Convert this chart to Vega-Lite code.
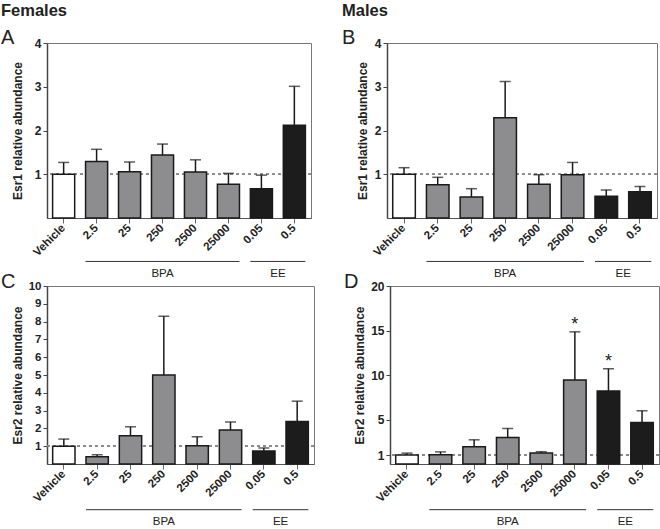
{
  "$schema": "https://vega.github.io/schema/vega-lite/v6.json",
  "background": "white",
  "padding": {"left": 0, "top": 2, "right": 0, "bottom": 0},
  "spacing": -9,
  "datasets": {
    "bars": [
      {"panel": "A", "dose": "Vehicle", "group": "Vehicle", "mean": 1.0, "upper": 1.27, "sig": ""},
      {"panel": "A", "dose": "2.5", "group": "BPA", "mean": 1.29, "upper": 1.57, "sig": ""},
      {"panel": "A", "dose": "25", "group": "BPA", "mean": 1.06, "upper": 1.28, "sig": ""},
      {"panel": "A", "dose": "250", "group": "BPA", "mean": 1.44, "upper": 1.69, "sig": ""},
      {"panel": "A", "dose": "2500", "group": "BPA", "mean": 1.05, "upper": 1.33, "sig": ""},
      {"panel": "A", "dose": "25000", "group": "BPA", "mean": 0.77, "upper": 1.02, "sig": ""},
      {"panel": "A", "dose": "0.05", "group": "EE", "mean": 0.67, "upper": 0.98, "sig": ""},
      {"panel": "A", "dose": "0.5", "group": "EE", "mean": 2.12, "upper": 3.01, "sig": ""},
      {"panel": "B", "dose": "Vehicle", "group": "Vehicle", "mean": 1.0, "upper": 1.15, "sig": ""},
      {"panel": "B", "dose": "2.5", "group": "BPA", "mean": 0.76, "upper": 0.93, "sig": ""},
      {"panel": "B", "dose": "25", "group": "BPA", "mean": 0.48, "upper": 0.67, "sig": ""},
      {"panel": "B", "dose": "250", "group": "BPA", "mean": 2.29, "upper": 3.12, "sig": ""},
      {"panel": "B", "dose": "2500", "group": "BPA", "mean": 0.77, "upper": 0.99, "sig": ""},
      {"panel": "B", "dose": "25000", "group": "BPA", "mean": 0.99, "upper": 1.27, "sig": ""},
      {"panel": "B", "dose": "0.05", "group": "EE", "mean": 0.5, "upper": 0.64, "sig": ""},
      {"panel": "B", "dose": "0.5", "group": "EE", "mean": 0.6, "upper": 0.72, "sig": ""},
      {"panel": "C", "dose": "Vehicle", "group": "Vehicle", "mean": 1.0, "upper": 1.4, "sig": ""},
      {"panel": "C", "dose": "2.5", "group": "BPA", "mean": 0.41, "upper": 0.52, "sig": ""},
      {"panel": "C", "dose": "25", "group": "BPA", "mean": 1.59, "upper": 2.09, "sig": ""},
      {"panel": "C", "dose": "250", "group": "BPA", "mean": 5.0, "upper": 8.3, "sig": ""},
      {"panel": "C", "dose": "2500", "group": "BPA", "mean": 1.03, "upper": 1.53, "sig": ""},
      {"panel": "C", "dose": "25000", "group": "BPA", "mean": 1.91, "upper": 2.36, "sig": ""},
      {"panel": "C", "dose": "0.05", "group": "EE", "mean": 0.73, "upper": 0.9, "sig": ""},
      {"panel": "C", "dose": "0.5", "group": "EE", "mean": 2.39, "upper": 3.53, "sig": ""},
      {"panel": "D", "dose": "Vehicle", "group": "Vehicle", "mean": 1.0, "upper": 1.22, "sig": ""},
      {"panel": "D", "dose": "2.5", "group": "BPA", "mean": 1.03, "upper": 1.36, "sig": ""},
      {"panel": "D", "dose": "25", "group": "BPA", "mean": 1.94, "upper": 2.72, "sig": ""},
      {"panel": "D", "dose": "250", "group": "BPA", "mean": 2.99, "upper": 3.99, "sig": ""},
      {"panel": "D", "dose": "2500", "group": "BPA", "mean": 1.23, "upper": 1.38, "sig": ""},
      {"panel": "D", "dose": "25000", "group": "BPA", "mean": 9.44, "upper": 14.85, "sig": "*"},
      {"panel": "D", "dose": "0.05", "group": "EE", "mean": 8.2, "upper": 10.7, "sig": "*"},
      {"panel": "D", "dose": "0.5", "group": "EE", "mean": 4.66, "upper": 5.97, "sig": ""}
    ],
    "groups": [
      {"group": "BPA", "start": "2.5", "end": "25000", "mid": "250"},
      {"group": "EE", "start": "0.05", "end": "0.5", "mid": "0.05"}
    ]
  },
  "vconcat": [
    {
      "spacing": 29,
      "hconcat": [
        {
          "width": 264, "height": 175,
          "title": {"text": "Females", "subtitle": "A", "anchor": "start", "frame": "group", "dx": -46, "offset": -11, "fontSize": 16.5, "fontWeight": "bold", "color": "#222", "subtitleFontSize": 20, "subtitleFontWeight": "normal", "subtitleColor": "#222", "subtitlePadding": 9},
          "layer": [
            {"data": {"name": "bars"}, "transform": [{"filter": "datum.panel == 'A'"}], "mark": {"type": "rule", "color": "#888", "strokeDash": [3, 3], "strokeWidth": 1}, "encoding": {"y": {"datum": 1, "type": "quantitative", "scale": {"domain": [0, 4], "nice": false}, "axis": {"values": [1, 2, 3, 4], "tickCount": 10, "format": "d", "titlePadding": 10, "labelOverlap": false}, "title": "Esr1 relative abundance"}}},
            {"data": {"name": "bars"}, "transform": [{"filter": "datum.panel == 'A'"}], "mark": {"type": "rule", "color": "#1a1a1a", "strokeWidth": 1.5}, "encoding": {"x": {"field": "dose", "type": "nominal", "sort": null, "scale": {"domain": ["Vehicle", "2.5", "25", "250", "2500", "25000", "0.05", "0.5"], "paddingInner": 0.33, "paddingOuter": 0.17}, "title": null}, "y": {"field": "mean", "type": "quantitative", "title": "Esr1 relative abundance", "axis": {"values": [1, 2, 3, 4], "tickCount": 10, "format": "d", "titlePadding": 10, "labelOverlap": false}}, "y2": {"field": "upper"}}},
            {"data": {"name": "bars"}, "transform": [{"filter": "datum.panel == 'A'"}], "mark": {"type": "tick", "color": "#1a1a1a", "thickness": 1.5, "size": 11}, "encoding": {"x": {"field": "dose", "type": "nominal", "sort": null, "title": null}, "y": {"field": "upper", "type": "quantitative", "title": "Esr1 relative abundance", "axis": {"values": [1, 2, 3, 4], "tickCount": 10, "format": "d", "titlePadding": 10, "labelOverlap": false}}}},
            {"data": {"name": "bars"}, "transform": [{"filter": "datum.panel == 'A'"}], "mark": {"type": "bar", "stroke": "#1a1a1a", "strokeWidth": 1.5}, "encoding": {"x": {"field": "dose", "type": "nominal", "sort": null, "title": null}, "y": {"field": "mean", "type": "quantitative", "title": "Esr1 relative abundance", "axis": {"values": [1, 2, 3, 4], "tickCount": 10, "format": "d", "titlePadding": 10, "labelOverlap": false}}, "color": {"field": "group", "type": "nominal", "scale": {"domain": ["Vehicle", "BPA", "EE"], "range": ["#ffffff", "#8d8d8f", "#1c1c1c"]}, "legend": null}}},
            {"data": {"name": "groups"}, "mark": {"type": "rule", "color": "#333", "strokeWidth": 1}, "encoding": {"x": {"field": "start", "type": "nominal", "bandPosition": 0, "title": null}, "x2": {"field": "end", "bandPosition": 1}, "y": {"datum": -0.993, "type": "quantitative"}}},
            {"data": {"name": "groups"}, "transform": [{"filter": "datum.group == 'BPA'"}], "mark": {"type": "text", "fontSize": 11.5, "color": "#222", "baseline": "middle"}, "encoding": {"x": {"field": "mid", "type": "nominal", "bandPosition": 0.5, "title": null}, "y": {"datum": -1.27, "type": "quantitative"}, "text": {"field": "group"}}},
            {"data": {"name": "groups"}, "transform": [{"filter": "datum.group == 'EE'"}], "mark": {"type": "text", "fontSize": 11.5, "color": "#222", "baseline": "middle"}, "encoding": {"x": {"field": "mid", "type": "nominal", "bandPosition": 1.25, "title": null}, "y": {"datum": -1.27, "type": "quantitative"}, "text": {"field": "group"}}}
          ]
        },
        {
          "width": 270, "height": 175,
          "title": {"text": "Males", "subtitle": "B", "anchor": "start", "frame": "group", "dx": -45, "offset": -11, "fontSize": 16.5, "fontWeight": "bold", "color": "#222", "subtitleFontSize": 20, "subtitleFontWeight": "normal", "subtitleColor": "#222", "subtitlePadding": 9},
          "layer": [
            {"data": {"name": "bars"}, "transform": [{"filter": "datum.panel == 'B'"}], "mark": {"type": "rule", "color": "#888", "strokeDash": [3, 3], "strokeWidth": 1}, "encoding": {"y": {"datum": 1, "type": "quantitative", "scale": {"domain": [0, 4], "nice": false}, "axis": {"values": [1, 2, 3, 4], "tickCount": 10, "format": "d", "titlePadding": 5, "labelOverlap": false}, "title": "Esr1 relative abundance"}}},
            {"data": {"name": "bars"}, "transform": [{"filter": "datum.panel == 'B'"}], "mark": {"type": "rule", "color": "#1a1a1a", "strokeWidth": 1.5}, "encoding": {"x": {"field": "dose", "type": "nominal", "sort": null, "scale": {"domain": ["Vehicle", "2.5", "25", "250", "2500", "25000", "0.05", "0.5"], "paddingInner": 0.33, "paddingOuter": 0.17}, "title": null}, "y": {"field": "mean", "type": "quantitative", "title": "Esr1 relative abundance", "axis": {"values": [1, 2, 3, 4], "tickCount": 10, "format": "d", "titlePadding": 5, "labelOverlap": false}}, "y2": {"field": "upper"}}},
            {"data": {"name": "bars"}, "transform": [{"filter": "datum.panel == 'B'"}], "mark": {"type": "tick", "color": "#1a1a1a", "thickness": 1.5, "size": 11}, "encoding": {"x": {"field": "dose", "type": "nominal", "sort": null, "title": null}, "y": {"field": "upper", "type": "quantitative", "title": "Esr1 relative abundance", "axis": {"values": [1, 2, 3, 4], "tickCount": 10, "format": "d", "titlePadding": 5, "labelOverlap": false}}}},
            {"data": {"name": "bars"}, "transform": [{"filter": "datum.panel == 'B'"}], "mark": {"type": "bar", "stroke": "#1a1a1a", "strokeWidth": 1.5}, "encoding": {"x": {"field": "dose", "type": "nominal", "sort": null, "title": null}, "y": {"field": "mean", "type": "quantitative", "title": "Esr1 relative abundance", "axis": {"values": [1, 2, 3, 4], "tickCount": 10, "format": "d", "titlePadding": 5, "labelOverlap": false}}, "color": {"field": "group", "type": "nominal", "scale": {"domain": ["Vehicle", "BPA", "EE"], "range": ["#ffffff", "#8d8d8f", "#1c1c1c"]}, "legend": null}}},
            {"data": {"name": "groups"}, "mark": {"type": "rule", "color": "#333", "strokeWidth": 1}, "encoding": {"x": {"field": "start", "type": "nominal", "bandPosition": 0, "title": null}, "x2": {"field": "end", "bandPosition": 1}, "y": {"datum": -0.993, "type": "quantitative"}}},
            {"data": {"name": "groups"}, "transform": [{"filter": "datum.group == 'BPA'"}], "mark": {"type": "text", "fontSize": 11.5, "color": "#222", "baseline": "middle"}, "encoding": {"x": {"field": "mid", "type": "nominal", "bandPosition": 0.5, "title": null}, "y": {"datum": -1.27, "type": "quantitative"}, "text": {"field": "group"}}},
            {"data": {"name": "groups"}, "transform": [{"filter": "datum.group == 'EE'"}], "mark": {"type": "text", "fontSize": 11.5, "color": "#222", "baseline": "middle"}, "encoding": {"x": {"field": "mid", "type": "nominal", "bandPosition": 1.25, "title": null}, "y": {"datum": -1.27, "type": "quantitative"}, "text": {"field": "group"}}}
          ]
        }
      ]
    },
    {
      "spacing": 28,
      "hconcat": [
        {
          "width": 267, "height": 178,
          "title": {"text": "C", "anchor": "start", "frame": "group", "dx": -46, "offset": -12, "fontSize": 20, "fontWeight": "normal", "color": "#222"},
          "layer": [
            {"data": {"name": "bars"}, "transform": [{"filter": "datum.panel == 'C'"}], "mark": {"type": "rule", "color": "#888", "strokeDash": [3, 3], "strokeWidth": 1}, "encoding": {"y": {"datum": 1, "type": "quantitative", "scale": {"domain": [0, 10], "nice": false}, "axis": {"values": [1, 2, 3, 4, 5, 6, 7, 8, 9, 10], "tickCount": 20, "format": "d", "titlePadding": 4, "labelOverlap": false, "labelFontSize": 11.5}, "title": "Esr2 relative abundance"}}},
            {"data": {"name": "bars"}, "transform": [{"filter": "datum.panel == 'C'"}], "mark": {"type": "rule", "color": "#1a1a1a", "strokeWidth": 1.5}, "encoding": {"x": {"field": "dose", "type": "nominal", "sort": null, "scale": {"domain": ["Vehicle", "2.5", "25", "250", "2500", "25000", "0.05", "0.5"], "paddingInner": 0.33, "paddingOuter": 0.17}, "title": null}, "y": {"field": "mean", "type": "quantitative", "title": "Esr2 relative abundance", "axis": {"values": [1, 2, 3, 4, 5, 6, 7, 8, 9, 10], "tickCount": 20, "format": "d", "titlePadding": 4, "labelOverlap": false, "labelFontSize": 11.5}}, "y2": {"field": "upper"}}},
            {"data": {"name": "bars"}, "transform": [{"filter": "datum.panel == 'C'"}], "mark": {"type": "tick", "color": "#1a1a1a", "thickness": 1.5, "size": 11}, "encoding": {"x": {"field": "dose", "type": "nominal", "sort": null, "title": null}, "y": {"field": "upper", "type": "quantitative", "title": "Esr2 relative abundance", "axis": {"values": [1, 2, 3, 4, 5, 6, 7, 8, 9, 10], "tickCount": 20, "format": "d", "titlePadding": 4, "labelOverlap": false, "labelFontSize": 11.5}}}},
            {"data": {"name": "bars"}, "transform": [{"filter": "datum.panel == 'C'"}], "mark": {"type": "bar", "stroke": "#1a1a1a", "strokeWidth": 1.5}, "encoding": {"x": {"field": "dose", "type": "nominal", "sort": null, "title": null}, "y": {"field": "mean", "type": "quantitative", "title": "Esr2 relative abundance", "axis": {"values": [1, 2, 3, 4, 5, 6, 7, 8, 9, 10], "tickCount": 20, "format": "d", "titlePadding": 4, "labelOverlap": false, "labelFontSize": 11.5}}, "color": {"field": "group", "type": "nominal", "scale": {"domain": ["Vehicle", "BPA", "EE"], "range": ["#ffffff", "#8d8d8f", "#1c1c1c"]}, "legend": null}}},
            {"data": {"name": "groups"}, "mark": {"type": "rule", "color": "#333", "strokeWidth": 1}, "encoding": {"x": {"field": "start", "type": "nominal", "bandPosition": 0, "title": null}, "x2": {"field": "end", "bandPosition": 1}, "y": {"datum": -2.567, "type": "quantitative"}}},
            {"data": {"name": "groups"}, "transform": [{"filter": "datum.group == 'BPA'"}], "mark": {"type": "text", "fontSize": 11.5, "color": "#222", "baseline": "middle"}, "encoding": {"x": {"field": "mid", "type": "nominal", "bandPosition": 0.5, "title": null}, "y": {"datum": -3.25, "type": "quantitative"}, "text": {"field": "group"}}},
            {"data": {"name": "groups"}, "transform": [{"filter": "datum.group == 'EE'"}], "mark": {"type": "text", "fontSize": 11.5, "color": "#222", "baseline": "middle"}, "encoding": {"x": {"field": "mid", "type": "nominal", "bandPosition": 1.25, "title": null}, "y": {"datum": -3.25, "type": "quantitative"}, "text": {"field": "group"}}}
          ]
        },
        {
          "width": 269, "height": 178,
          "title": {"text": "D", "anchor": "start", "frame": "group", "dx": -46, "offset": -12, "fontSize": 20, "fontWeight": "normal", "color": "#222"},
          "layer": [
            {"data": {"name": "bars"}, "transform": [{"filter": "datum.panel == 'D'"}], "mark": {"type": "rule", "color": "#888", "strokeDash": [3, 3], "strokeWidth": 1}, "encoding": {"y": {"datum": 1, "type": "quantitative", "scale": {"domain": [0, 20], "nice": false}, "axis": {"values": [1, 5, 10, 15, 20], "tickCount": 10, "format": "d", "titlePadding": 4, "labelOverlap": false}, "title": "Esr2 relative abundance"}}},
            {"data": {"name": "bars"}, "transform": [{"filter": "datum.panel == 'D'"}], "mark": {"type": "rule", "color": "#1a1a1a", "strokeWidth": 1.5}, "encoding": {"x": {"field": "dose", "type": "nominal", "sort": null, "scale": {"domain": ["Vehicle", "2.5", "25", "250", "2500", "25000", "0.05", "0.5"], "paddingInner": 0.33, "paddingOuter": 0.17}, "title": null}, "y": {"field": "mean", "type": "quantitative", "title": "Esr2 relative abundance", "axis": {"values": [1, 5, 10, 15, 20], "tickCount": 10, "format": "d", "titlePadding": 4, "labelOverlap": false}}, "y2": {"field": "upper"}}},
            {"data": {"name": "bars"}, "transform": [{"filter": "datum.panel == 'D'"}], "mark": {"type": "tick", "color": "#1a1a1a", "thickness": 1.5, "size": 11}, "encoding": {"x": {"field": "dose", "type": "nominal", "sort": null, "title": null}, "y": {"field": "upper", "type": "quantitative", "title": "Esr2 relative abundance", "axis": {"values": [1, 5, 10, 15, 20], "tickCount": 10, "format": "d", "titlePadding": 4, "labelOverlap": false}}}},
            {"data": {"name": "bars"}, "transform": [{"filter": "datum.panel == 'D'"}], "mark": {"type": "bar", "stroke": "#1a1a1a", "strokeWidth": 1.5}, "encoding": {"x": {"field": "dose", "type": "nominal", "sort": null, "title": null}, "y": {"field": "mean", "type": "quantitative", "title": "Esr2 relative abundance", "axis": {"values": [1, 5, 10, 15, 20], "tickCount": 10, "format": "d", "titlePadding": 4, "labelOverlap": false}}, "color": {"field": "group", "type": "nominal", "scale": {"domain": ["Vehicle", "BPA", "EE"], "range": ["#ffffff", "#8d8d8f", "#1c1c1c"]}, "legend": null}}},
            {"data": {"name": "bars"}, "transform": [{"filter": "datum.panel == 'D' && datum.sig != ''"}], "mark": {"type": "text", "fontSize": 18, "color": "#222", "baseline": "alphabetic", "dy": -2}, "encoding": {"x": {"field": "dose", "type": "nominal", "sort": null, "title": null}, "y": {"field": "upper", "type": "quantitative", "title": "Esr2 relative abundance", "axis": {"values": [1, 5, 10, 15, 20], "tickCount": 10, "format": "d", "titlePadding": 4, "labelOverlap": false}}, "text": {"field": "sig"}}},
            {"data": {"name": "groups"}, "mark": {"type": "rule", "color": "#333", "strokeWidth": 1}, "encoding": {"x": {"field": "start", "type": "nominal", "bandPosition": 0, "title": null}, "x2": {"field": "end", "bandPosition": 1}, "y": {"datum": -5.13, "type": "quantitative"}}},
            {"data": {"name": "groups"}, "transform": [{"filter": "datum.group == 'BPA'"}], "mark": {"type": "text", "fontSize": 11.5, "color": "#222", "baseline": "middle"}, "encoding": {"x": {"field": "mid", "type": "nominal", "bandPosition": 0.5, "title": null}, "y": {"datum": -6.5, "type": "quantitative"}, "text": {"field": "group"}}},
            {"data": {"name": "groups"}, "transform": [{"filter": "datum.group == 'EE'"}], "mark": {"type": "text", "fontSize": 11.5, "color": "#222", "baseline": "middle"}, "encoding": {"x": {"field": "mid", "type": "nominal", "bandPosition": 1.25, "title": null}, "y": {"datum": -6.5, "type": "quantitative"}, "text": {"field": "group"}}}
          ]
        }
      ]
    }
  ],
  "config": {
    "font": "Liberation Sans",
    "view": {"stroke": "#777", "strokeWidth": 1},
    "axis": {"grid": false},
    "axisX": {"labelAngle": -45, "labelAlign": "right", "labelBaseline": "middle", "labelFontSize": 11.5, "labelFontWeight": "bold", "labelColor": "#222", "tickColor": "#666", "tickSize": 5, "domainColor": "#555", "domainWidth": 1.2, "labelPadding": 3},
    "axisY": {"labelFontSize": 12, "labelFontWeight": "bold", "labelColor": "#222", "tickColor": "#444", "tickSize": 4, "domainColor": "#444", "domainWidth": 1.5, "titleFontSize": 12, "titleFontWeight": "bold", "titleColor": "#222", "labelPadding": 2, "labelOverlap": false}
  }
}
